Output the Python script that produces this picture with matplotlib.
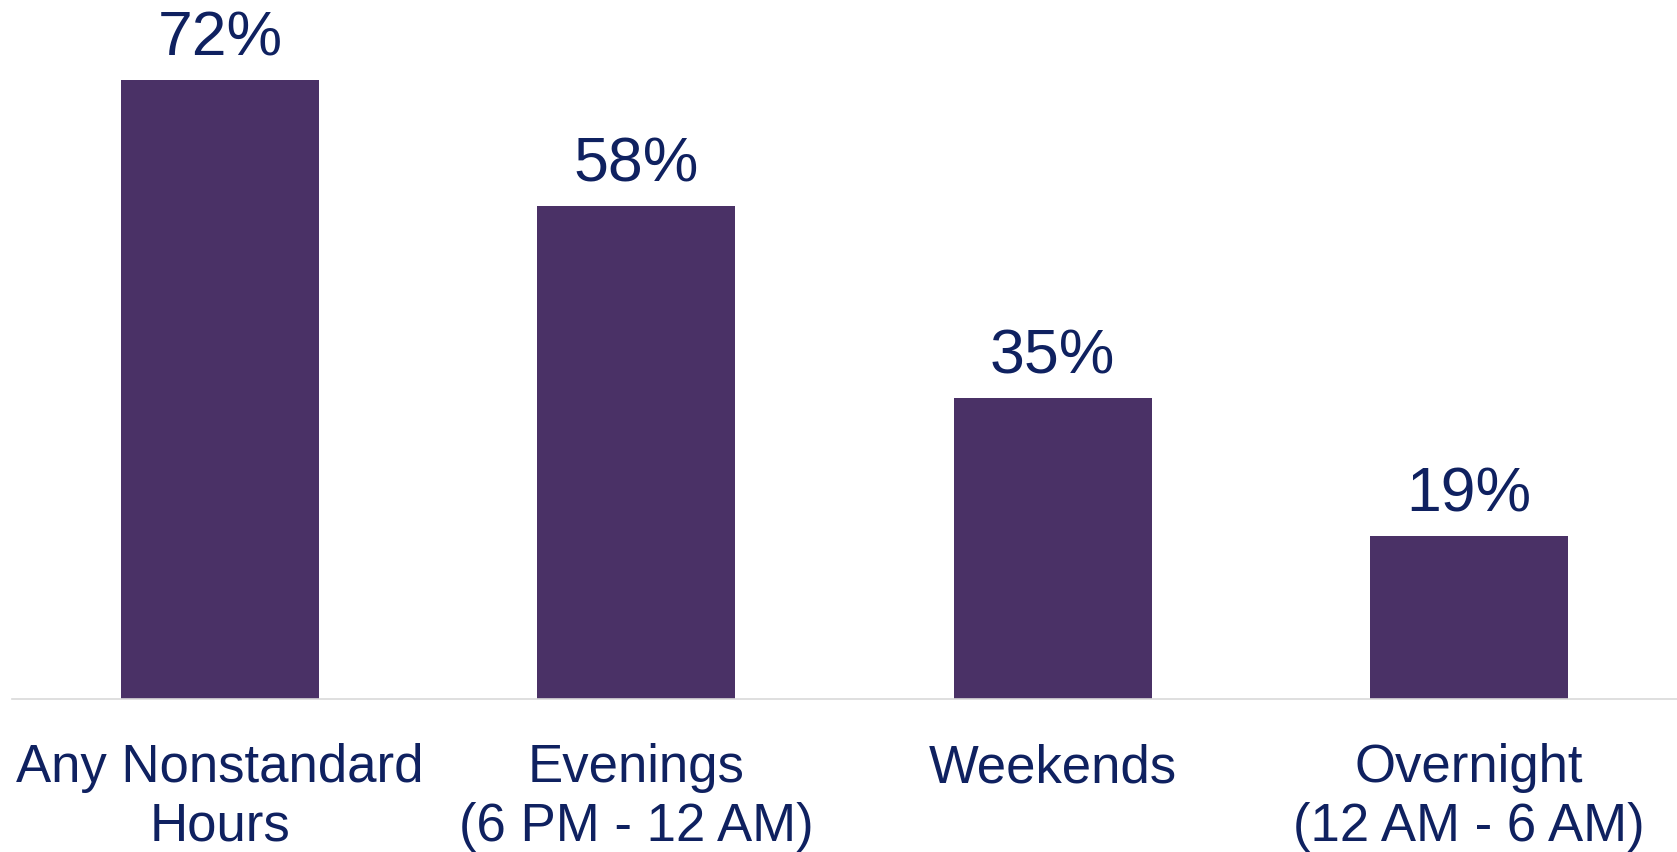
import matplotlib.pyplot as plt

plt.rcParams['font.family'] = ['Liberation Sans', 'DejaVu Sans']

categories = ['Any Nonstandard\nHours', 'Evenings\n(6 PM - 12 AM)', 'Weekends', 'Overnight\n(12 AM - 6 AM)']
values = [72, 57.3, 35, 19]  # bar heights as drawn
value_labels = ['72%', '58%', '35%', '19%']

bar_color = '#4A3166'
text_color = '#0F2160'

fig = plt.figure(figsize=(16.77, 8.53), dpi=100)
ax = fig.add_axes([12 / 1677, 153 / 853, 1665 / 1677, 700 / 853])

x = range(len(categories))
bars = ax.bar(x, values, width=0.476, color=bar_color)
ax.bar_label(bars, labels=value_labels, padding=9,
             fontsize=45, color=text_color)

ax.set_xlim(-0.5, 3.5)
ax.set_ylim(0, 81.4)
ax.set_xticks(list(x))
ax.set_xticklabels(categories, fontsize=38, color=text_color, linespacing=1.22)
ax.tick_params(axis='x', length=0, pad=31)
ax.set_yticks([])

for s in ['top', 'right', 'left']:
    ax.spines[s].set_visible(False)
ax.spines['bottom'].set_color('#D9D9D9')
ax.spines['bottom'].set_linewidth(1.2)

# plt.show()
fig.savefig('out.png', dpi=100)
